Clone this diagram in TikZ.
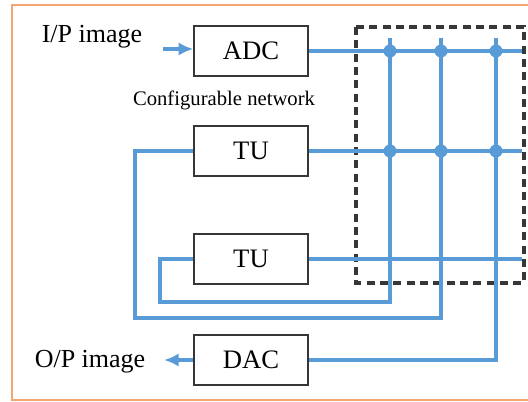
\documentclass[tikz,border=0pt]{standalone}
\usepackage{fontspec}
\setmainfont{Liberation Serif}
\usepackage{xcolor}
\usetikzlibrary{arrows.meta}

\definecolor{busblue}{RGB}{88,155,215}
\definecolor{frameorange}{RGB}{243,165,115}
\definecolor{boxgray}{RGB}{55,55,55}

\tikzset{
  block/.style={draw=boxgray, line width=1.6pt, minimum width=85pt, minimum height=38pt,
    inner sep=0pt, font=\fontsize{20}{22}\selectfont},
  label/.style={font=\fontsize{19.5}{22}\selectfont},
  bus/.style={draw=busblue, line width=2.4pt},
  tap/.style={fill=busblue},
  crossbar/.style={draw=boxgray, line width=2.7pt, dash pattern=on 6pt off 4pt}
}

\begin{document}
\begin{tikzpicture}[x=0.75pt, y=-0.75pt]
  % Fix the page to the size of the picture
  \clip (0,0) rectangle (528,401);
  \draw[frameorange, line width=1.6pt] (540,5) -- (12,5) -- (12,400) -- (540,400);

  % Blocks
  \node[block] (adc) at (251,51) {ADC};
  \node[block] (tuA) at (251,151) {TU};
  \node[block] (tuB) at (251,259) {TU};
  \node[block] (dac) at (251,360) {DAC};

  % Labels
  \node[label] (ip) at (92,37) {I/P image};
  \node[label] (op) at (90,362) {O/P image};
  \node[font=\fontsize{15.5}{18}\selectfont] (cfg) at (224,100) {Configurable network};

  % Switch box
  \draw[crossbar] (356,27) rectangle (524,283);

  % Ends of the bus lines
  \coordinate (rightEnd) at (522,0);
  \coordinate (colA) at (390,38);
  \coordinate (colB) at (441,38);
  \coordinate (colC) at (496,38);
  \coordinate (inArr) at (163,49);
  \coordinate (outArr) at (164,360);

  % Input and output arrows
  \draw[bus, -{Latex[length=11pt, width=10pt]}] (inArr) -- (inArr -| adc.west);
  \draw[bus, -{Latex[length=11pt, width=10pt]}] (dac.west) -- (outArr);

  % Rows of the crossbar
  \draw[bus] (adc.east) -- (adc.east -| rightEnd);
  \draw[bus] (tuA.east) -- (tuA.east -| rightEnd);
  \draw[bus] (tuB.east) -- (tuB.east -| rightEnd);

  % Columns of the crossbar, fed back to the blocks
  \draw[bus] (colA) |- (160,302) |- (tuB.west);
  \draw[bus] (colB) |- (135,318) |- (tuA.west);
  \draw[bus] (colC) |- (dac.east);

  % Taps
  \foreach \c in {colA,colB,colC} {
    \fill[tap] (\c |- adc.east) circle (6.5);
    \fill[tap] (\c |- tuA.east) circle (6.5);
  }
\end{tikzpicture}
\end{document}
